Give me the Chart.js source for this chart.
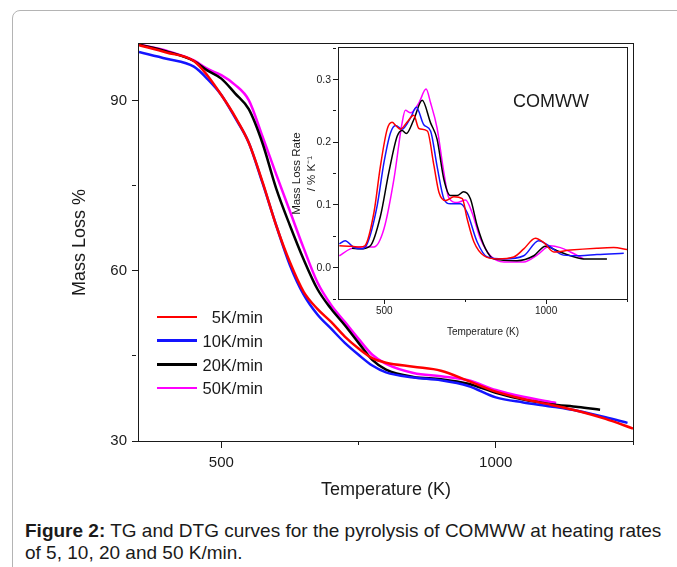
<!DOCTYPE html>
<html>
<head>
<meta charset="utf-8">
<script src="https://cdn.jsdelivr.net/npm/chart.js@4.4.1/dist/chart.umd.min.js"></script>
<style>
  html, body { margin: 0; padding: 0; background: #fff; }
  body { width: 677px; height: 567px; position: relative; overflow: hidden;
         font-family: "Liberation Sans", Arial, sans-serif; color: #1a1a1a; }
  .frame { position: absolute; left: 12px; top: 10px; width: 720px; height: 620px;
           border: 1px solid #b4b4b4; border-radius: 8px; }
  #mainWrap { position: absolute; left: 0; top: 0; }
  #insetWrap { position: absolute; left: 280px; top: 40px; }
  #comww { position: absolute; left: 496px; top: 90px; width: 110px; text-align: center;
           font-size: 18px; line-height: 22px; }
  #legend { position: absolute; left: 157px; top: 305px; }
  .row { position: relative; width: 106px; height: 23.8px; }
  .swatch { position: absolute; left: 0; top: 10.5px; width: 40px; height: 2.6px; }
  .row span { position: absolute; right: 0; top: 0; line-height: 24px; font-size: 16.5px; white-space: pre; }
  .caption { position: absolute; left: 25px; top: 520px; font-size: 19px; line-height: 22px; white-space: nowrap; }
</style>
</head>
<body>
<div class="frame"></div>
<div id="mainWrap"><canvas id="tgChart" width="677" height="520"></canvas></div>
<div id="insetWrap"><canvas id="dtgChart" width="355" height="305"></canvas></div>
<div id="comww">COMWW</div>
<div id="legend"></div>
<div class="caption"><b>Figure 2:</b> TG and DTG curves for the pyrolysis of COMWW at heating rates<br>of 5, 10, 20 and 50 K/min.</div>

<script>
// ===== DATA =====
const seriesNames = [' 5K/min', '10K/min', '20K/min', '50K/min'];
const seriesColors = ['#ff0000', '#1414ff', '#000000', '#ff00ff'];

// TG curves (mass loss %, main plot)
const tgT5  = [350,400,450,475,500,525,550,575,600,625,650,675,700,725,750,775,800,850,900,950,1000,1050,1100,1150,1200,1250];
const tgM5  = [99.8,98.5,97.0,94.4,91.0,87.2,82.6,75.7,68.0,61.5,56.3,53.3,51.0,48.4,46.3,44.6,43.8,43.1,42.4,40.6,38.7,37.4,36.4,35.3,33.9,32.2];
const tgT10 = [350,400,450,475,500,525,550,575,600,625,650,675,700,725,750,775,800,850,900,950,1000,1050,1100,1150,1200,1240];
const tgM10 = [98.6,97.4,96.0,93.8,91.0,87.0,82.6,75.5,68.0,61.0,55.8,52.3,49.8,47.3,45.2,43.3,42.1,41.2,40.7,39.7,37.7,36.8,36.1,35.3,34.2,33.2];
const tgT20 = [350,400,450,475,500,525,550,575,600,625,650,675,700,725,750,775,800,850,900,950,1000,1050,1100,1150,1190];
const tgM20 = [99.9,98.7,97.0,95.3,93.9,91.3,88.5,82.5,74.5,68.0,62.0,56.8,53.3,50.4,47.3,44.3,42.6,41.3,40.9,40.1,38.5,37.3,36.5,36.0,35.5];
const tgT50 = [350,400,450,475,500,525,550,575,600,625,650,675,700,725,750,775,800,850,900,950,1000,1050,1110];
const tgM50 = [99.9,98.8,97.1,95.6,94.5,92.8,90.1,83.7,77.0,70.5,64.0,58.0,54.0,51.0,48.0,45.2,43.6,42.0,41.4,40.7,39.0,37.8,36.7];

// DTG curves (mass loss rate, inset)
const dtgT5  = [361,400,426,440,468,488,509,524,537,550,570,591,607,633,653,669,690,715,741,756,777,808,849,900,931,967,993,1024,1075,1157,1209,1250];
const dtgV5  = [0.035,0.034,0.033,0.035,0.088,0.162,0.221,0.232,0.226,0.221,0.232,0.243,0.222,0.218,0.164,0.120,0.107,0.113,0.110,0.078,0.041,0.019,0.014,0.017,0.030,0.047,0.040,0.025,0.028,0.031,0.032,0.029];
const dtgT10 = [361,379,404,426,447,478,499,519,535,555,581,599,622,643,663,684,704,735,756,787,818,870,931,977,1008,1054,1106,1157,1240];
const dtgV10 = [0.038,0.043,0.033,0.030,0.038,0.099,0.168,0.215,0.227,0.221,0.239,0.256,0.228,0.218,0.162,0.110,0.102,0.102,0.088,0.041,0.017,0.014,0.019,0.043,0.035,0.020,0.019,0.021,0.023];
const dtgT20 = [400,426,457,488,514,540,555,568,591,617,643,663,684,704,725,745,766,787,813,838,910,962,998,1034,1075,1116,1188];
const dtgV20 = [0.031,0.030,0.035,0.082,0.152,0.210,0.219,0.214,0.236,0.267,0.231,0.205,0.141,0.115,0.115,0.121,0.110,0.067,0.030,0.014,0.011,0.019,0.034,0.027,0.019,0.014,0.014];
const dtgT50 = [361,395,426,468,499,530,555,565,581,607,629,643,663,684,699,725,751,771,797,828,870,931,972,1013,1044,1075,1116];
const dtgV50 = [0.019,0.030,0.033,0.033,0.062,0.142,0.231,0.251,0.247,0.263,0.285,0.263,0.223,0.152,0.112,0.104,0.108,0.088,0.046,0.019,0.009,0.009,0.020,0.035,0.032,0.025,0.014];

// ticks
const tgTicksX = [500, 750, 1000, 1250];
const tgLabelsX = [500, 1000];
const tgTicksY = [30, 45, 60, 75, 90];
const tgLabelsY = [30, 60, 90];
const dtgTicksX = [500, 750, 1000, 1250];
const dtgLabelsX = [500, 1000];
const dtgTicksY = [-0.05, 0, 0.05, 0.1, 0.15, 0.2, 0.25, 0.3, 0.35];
const dtgLabelsY = [0, 0.1, 0.2, 0.3];

// ===== HELPERS =====
const FONT = '"Liberation Sans", Arial, sans-serif';
const pts = (xs, ys) => xs.map((x, i) => ({ x: x, y: ys[i] }));
const isMajor = (list, v) => list.some(m => Math.abs(m - v) < 1e-9);

const framePlugin = {
  id: 'frame',
  beforeDatasetsDraw(chart) {
    const { ctx, chartArea: a } = chart;
    ctx.save();
    ctx.strokeStyle = '#1a1a1a';
    ctx.lineWidth = 1;
    ctx.strokeRect(Math.round(a.left) - 0.5, Math.round(a.top) - 0.5,
      Math.round(a.right - a.left) + 1, Math.round(a.bottom - a.top) + 1);
    ctx.restore();
  }
};

function makeSets(list, width) {
  return list.map((d, i) => ({
    label: seriesNames[i],
    data: pts(d[0], d[1]),
    borderColor: seriesColors[i],
    borderWidth: width,
    pointRadius: 0,
    cubicInterpolationMode: 'monotone',
    fill: false
  }));
}

function axis(opts) {
  return {
    type: 'linear',
    min: opts.min,
    max: opts.max,
    afterBuildTicks: s => { s.ticks = opts.ticks.map(v => ({ value: v })); },
    afterFit: opts.fit,
    border: { display: false },
    grid: {
      drawOnChartArea: false,
      drawTicks: true,
      tickLength: opts.tickLen,
      tickColor: '#1a1a1a',
      tickWidth: 1,
      tickBorderDash: c => isMajor(opts.labels, c.tick.value) ? [] : [opts.minorLen, 40]
    },
    ticks: {
      padding: opts.pad,
      color: '#1a1a1a',
      maxRotation: 0,
      autoSkip: false,
      font: { family: FONT, size: opts.font },
      callback: v => isMajor(opts.labels, v) ? opts.fmt(v) : ''
    },
    title: opts.title
  };
}

// ===== MAIN TG CHART =====
new Chart(document.getElementById('tgChart'), {
  type: 'line',
  data: {
    datasets: makeSets([[tgT5, tgM5], [tgT10, tgM10], [tgT20, tgM20], [tgT50, tgM50]], 2.5)
  },
  options: {
    responsive: false,
    animation: false,
    layout: { padding: { top: 44, right: 44, left: 0, bottom: 0 } },
    plugins: { legend: { display: false }, tooltip: { enabled: false } },
    scales: {
      x: axis({
        ticks: tgTicksX, labels: tgLabelsX, min: 350, max: 1250, font: 15,
        tickLen: 7, minorLen: 4, pad: 6, fmt: v => String(v),
        fit: s => { s.height = 79; },
        title: { display: true, text: 'Temperature (K)', color: '#1a1a1a',
                 font: { family: FONT, size: 18 }, padding: { top: 0, bottom: 19 } }
      }),
      y: axis({
        ticks: tgTicksY, labels: tgLabelsY, min: 30, max: 100, font: 15,
        tickLen: 7, minorLen: 4, pad: 5, fmt: v => String(v),
        fit: s => { s.width = 139; },
        title: { display: true, text: 'Mass Loss %', color: '#1a1a1a',
                 font: { family: FONT, size: 18 }, padding: { top: 69, bottom: 0 } }
      })
    }
  },
  plugins: [framePlugin]
});

// ===== INSET DTG CHART =====
new Chart(document.getElementById('dtgChart'), {
  type: 'line',
  data: {
    datasets: makeSets([[dtgT5, dtgV5], [dtgT10, dtgV10], [dtgT20, dtgV20], [dtgT50, dtgV50]], 1.5)
  },
  options: {
    responsive: false,
    animation: false,
    layout: { padding: { top: 8, right: 8, left: 0, bottom: 0 } },
    plugins: { legend: { display: false }, tooltip: { enabled: false } },
    scales: {
      x: axis({
        ticks: dtgTicksX, labels: dtgLabelsX, min: 360, max: 1250, font: 10,
        tickLen: 5, minorLen: 3, pad: 1, fmt: v => String(v),
        fit: s => { s.height = 46; },
        title: { display: true, text: 'Temperature (K)', color: '#1a1a1a',
                 font: { family: FONT, size: 10 }, padding: { top: 0, bottom: 7 } }
      }),
      y: axis({
        ticks: dtgTicksY, labels: dtgLabelsY, min: -0.05, max: 0.35, font: 10.5,
        tickLen: 6, minorLen: 3, pad: 2, fmt: v => v.toFixed(1),
        fit: s => { s.width = 59; },
        title: { display: true, text: ['Mass Loss Rate', '/ % K\u207B\u00B9'], color: '#1a1a1a',
                 font: { family: FONT, size: 11.5, lineHeight: 1.3 }, padding: { top: 9.5, bottom: 0 } }
      })
    }
  },
  plugins: [framePlugin]
});

// ===== LEGEND =====
const legend = document.getElementById('legend');
seriesNames.forEach((name, i) => {
  const row = document.createElement('div');
  row.className = 'row';
  row.innerHTML = '<div class="swatch" style="background:' + seriesColors[i] + '"></div><span>' + name + '</span>';
  legend.appendChild(row);
});
</script>
</body>
</html>
